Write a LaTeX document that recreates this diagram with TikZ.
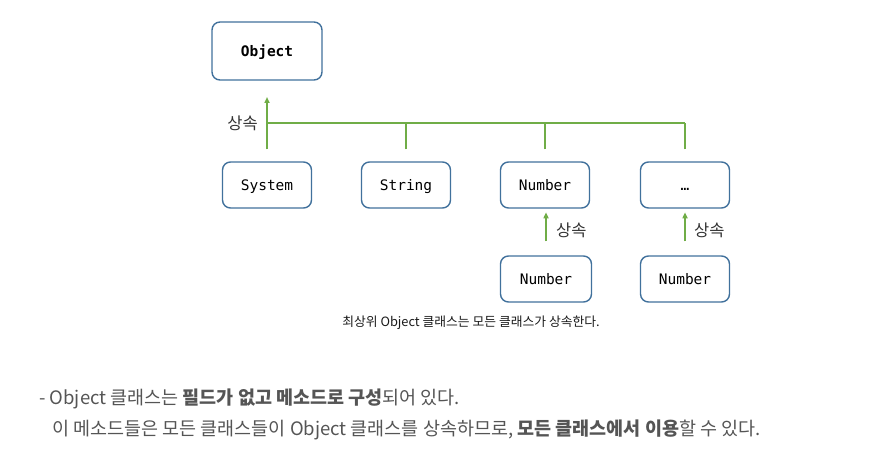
\documentclass[tikz,border=0pt]{standalone}
\usepackage{fontspec}
\setmainfont{Noto Sans CJK KR}
\setmonofont{DejaVu Sans Mono}
\newfontfamily\kr{Noto Sans CJK KR}
\usetikzlibrary{arrows.meta}
\definecolor{boxblue}{HTML}{41719C}
\definecolor{inhgreen}{HTML}{70AD47}
\definecolor{bodygray}{HTML}{555555}
\begin{document}
\begin{tikzpicture}[x=1pt,y=-1pt,
  cls/.style={draw=boxblue,line width=1.4pt,rounded corners=8pt,fill=white,
    minimum width=89pt,minimum height=46pt,inner sep=0pt,text height=12pt,text depth=1.5pt,
    font=\ttfamily\fontsize{14.5}{16}\selectfont},
  inh/.style={draw=inhgreen,line width=1.5pt},
  inharr/.style={inh,-{Triangle[length=6pt,width=5pt]}},
  lbl/.style={font=\kr\fontsize{16.5}{18}\selectfont,text=black!80,inner sep=0pt}]
\useasboundingbox (0,0) rectangle (874,465);
\node[cls,minimum width=110pt,minimum height=58pt,font=\ttfamily\bfseries\fontsize{14.5}{16}\selectfont] (obj) at (267,51) {Object};
\node[cls] (sys) at (267,185) {System};
\node[cls] (str) at (406,185) {String};
\node[cls] (num) at (545,185) {Number};
\node[cls] (dots) at (685,185) {…};
\node[cls,minimum width=91pt] (num2) at (546,279) {Number};
\node[cls] (num3) at (685,279) {Number};
% top inheritance
\coordinate (j) at (267,123);
\coordinate (jr) at (685,123);
\coordinate (tip) at (267,97);
\draw[inh] (j) -- (jr);
\draw[inharr] (sys.north) ++(0,-12) coordinate (s0) -- (tip);
\draw[inh] (str.north) ++(0,-12) -- (406,123);
\draw[inh] (num.north) ++(0,-12) -- (545,123);
\draw[inh] (dots.north) ++(0,-12) -- (685,123);
\node[lbl,anchor=east] (l1) at (258,123) {상속};
% lower inheritance
\draw[inharr] (num2.north) ++(0,-14) -- ++(0,-29);
\draw[inharr] (num3.north) ++(0,-14) -- ++(0,-29);
\node[lbl,anchor=west] (l2) at (556,230) {상속};
\node[lbl,anchor=west] (l3) at (694,230) {상속};
% caption
\node[font=\kr\fontsize{12.8}{14}\selectfont,text=black!90] (cap) at (471,323) {최상위 Object 클래스는 모든 클래스가 상속한다.};
% body text
\node[anchor=west,inner sep=0pt,font=\kr\fontsize{18.5}{21}\selectfont,text=bodygray] (t1) at (39,399)
  {- Object 클래스는 \textbf{필드가 없고 메소드로 구성}되어 있다.};
\node[anchor=west,inner sep=0pt,font=\kr\fontsize{18.5}{21}\selectfont,text=bodygray] (t2) at (52,430)
  {이 메소드들은 모든 클래스들이 Object 클래스를 상속하므로, \textbf{모든 클래스에서 이용}할 수 있다.};
\end{tikzpicture}
\end{document}
